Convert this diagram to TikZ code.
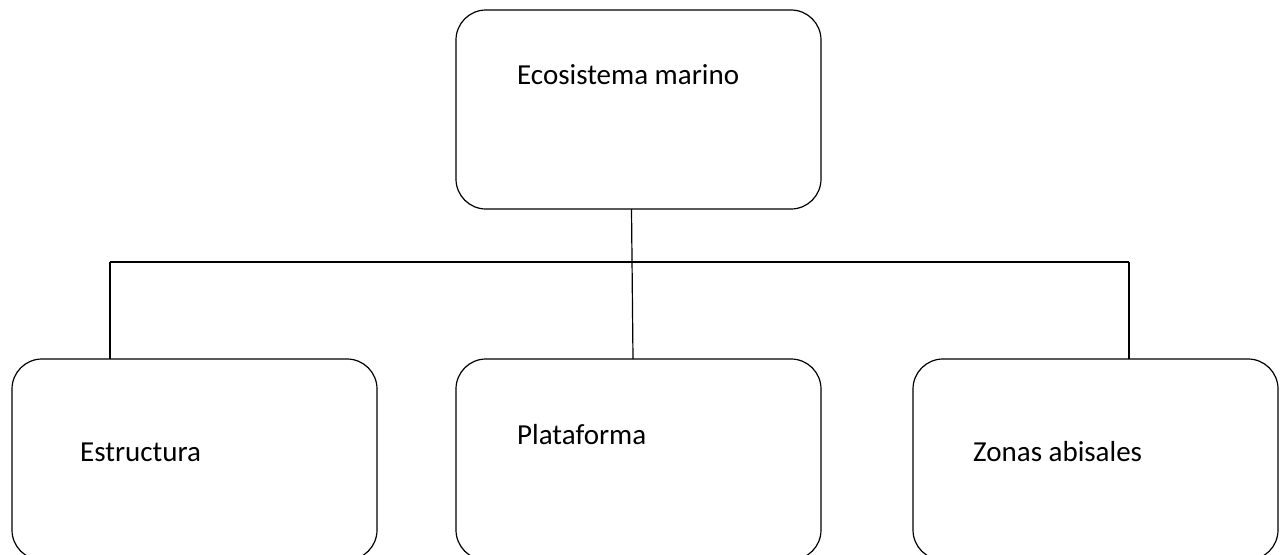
\documentclass[tikz,border=0pt]{standalone}
\usepackage{fontspec}
\setmainfont{Carlito}
\usepackage{tikz}
\usetikzlibrary{positioning,calc}
\tikzset{
  topicbox/.style={draw,rounded corners=30pt,minimum width=365pt,minimum height=200pt,inner sep=0pt,outer sep=0pt,line width=1.2pt},
  topictext/.style={anchor=base west,inner sep=0pt,font=\fontsize{29}{35}\selectfont},
  link/.style={line width=1.2pt}
}
\begin{document}
\begin{tikzpicture}[x=1pt,y=-1pt]
\clip (0,0) rectangle (1287,554);
\useasboundingbox (0,0) rectangle (1287,554);

\node[topicbox,minimum height=199pt] (eco) at (638.5,109.5) {};
\node[topicbox,minimum height=201pt] (estr) at (194.5,459.5) {};
\node[topicbox,minimum height=201pt] (plat) at (638.5,459.5) {};
\node[topicbox,minimum height=201pt] (zonas) at (1095.5,459.5) {};

\node[topictext] (ecotxt) at ([xshift=61pt,yshift=-74pt]eco.north west) {Ecosistema marino};
\node[topictext] (estrtxt) at ([xshift=68pt,yshift=-102pt]estr.north west) {Estructura};
\node[topictext] (plattxt) at ([xshift=61pt,yshift=-85pt]plat.north west) {Plataforma};
\node[topictext] (zonastxt) at ([xshift=60pt,yshift=-102pt]zonas.north west) {Zonas abisales};

\coordinate (barL) at (110,262);
\coordinate (barR) at (1129,262);
\draw[link] (barL) -- (barR);
\draw[link] (barL) -- (barL |- estr.north);
\draw[link] (barR) -- (barR |- zonas.north);
\draw[link] ([xshift=-7pt]eco.south) -- ([xshift=-5.5pt]plat.north);
\end{tikzpicture}
\end{document}
